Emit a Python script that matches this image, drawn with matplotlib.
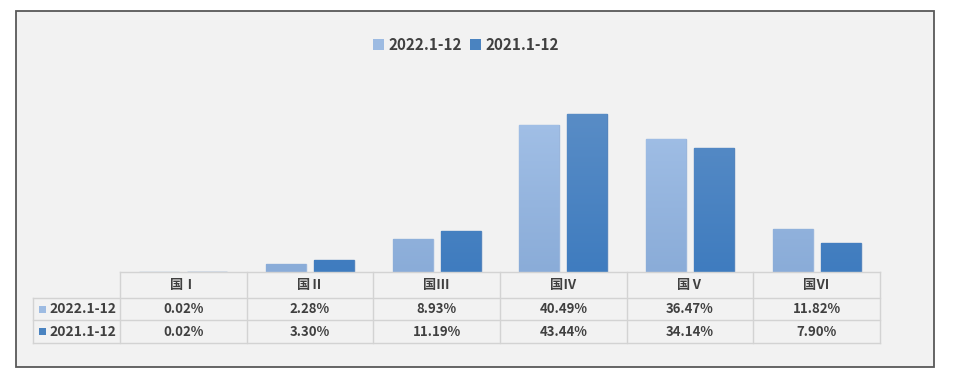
import matplotlib as mpl

mpl.use("Agg")

import matplotlib.pyplot as plt
import numpy as np
from matplotlib.colors import LinearSegmentedColormap
from matplotlib.patches import Patch, Rectangle

plt.rcParams["font.family"] = ["Noto Sans CJK SC", "DejaVu Sans"]

categories = ["国Ⅰ", "国Ⅱ", "国Ⅲ", "国Ⅳ", "国Ⅴ", "国Ⅵ"]
series_names = ["2022.1-12", "2021.1-12"]
share_2022 = [0.02, 2.28, 8.93, 40.49, 36.47, 11.82]
share_2021 = [0.02, 3.30, 11.19, 43.44, 34.14, 7.90]

LIGHT = {"top": "#a6c3e9", "bottom": "#8aacd8", "key": "#9dbbe2", "edge": "#9ab6dc"}
DARK = {"top": "#5d8fc7", "bottom": "#3f7cbf", "key": "#4a83c0", "edge": "#5585bd"}
TEXT = "#404040"
GRID = "#d3d3d3"

W, H = 956, 387
fig = plt.figure(figsize=(W / 100, H / 100), dpi=100)
fig.patch.set_facecolor("white")


def fx(px):
    return px / W


def fy(py):
    return 1 - py / H


# outer frame
fig.add_artist(Rectangle((fx(16), fy(367)), fx(934) - fx(16), fy(11) - fy(367),
                         transform=fig.transFigure, facecolor="#f2f2f2",
                         edgecolor="#595959", linewidth=1.3, zorder=0))

ax = fig.add_axes([fx(120), fy(272), fx(880) - fx(120), fy(90) - fy(272)])
ax.set_facecolor("none")

x = np.arange(len(categories))
bw = 0.315
off = 0.19


def gradient_bars(values, pos, colors):
    bars = ax.bar(pos, values, width=bw, color=colors["bottom"],
                  edgecolor=colors["edge"], linewidth=1.0, zorder=2)
    cmap = LinearSegmentedColormap.from_list("g", [colors["bottom"], colors["top"]])
    grad = np.linspace(0, 1, 256).reshape(-1, 1)
    for b in bars:
        x0, y0 = b.get_x(), b.get_y()
        im = ax.imshow(grad, cmap=cmap, origin="lower", aspect="auto",
                       extent=(x0, x0 + b.get_width(), y0, y0 + 50), zorder=3)
        im.set_clip_path(b)
    return bars


gradient_bars(share_2022, x - off, LIGHT)
gradient_bars(share_2021, x + off, DARK)

ax.set_xlim(-0.5, len(categories) - 0.5)
ax.set_ylim(0, 50)
ax.set_xticks([])
ax.set_yticks([])
for s in ax.spines.values():
    s.set_visible(False)

# data table under the bars
tr = ax.get_xaxis_transform()
unit = 760 / len(categories)
label_left = -0.5 - 87 / unit
right = len(categories) - 0.5
row_y = [0.0, -26 / 182, -48 / 182, -71 / 182]

line_kw = dict(transform=tr, color=GRID, linewidth=1.0, clip_on=False, zorder=4)
ax.plot([-0.5, right], [row_y[0], row_y[0]], **line_kw)
for yy in row_y[1:]:
    ax.plot([label_left, right], [yy, yy], **line_kw)
for i in range(len(categories) + 1):
    ax.plot([i - 0.5, i - 0.5], [row_y[0], row_y[3]], **line_kw)
ax.plot([label_left, label_left], [row_y[1], row_y[3]], **line_kw)

for i, cat in enumerate(categories):
    ax.text(i, (row_y[0] + row_y[1]) / 2, cat, transform=tr, ha="center", va="center",
            fontsize=9.5, color=TEXT, fontweight="bold")

for r, (vals, colors, name) in enumerate(zip([share_2022, share_2021], [LIGHT, DARK], series_names)):
    yc = (row_y[r + 1] + row_y[r + 2]) / 2
    for i, v in enumerate(vals):
        ax.text(i, yc, f"{v:.2f}%", transform=tr, ha="center", va="center",
                fontsize=9.5, color=TEXT, fontweight="bold")
    sq_w = 7 / unit
    sq_h = 7 / 182
    ax.add_patch(Rectangle((label_left + 6 / unit, yc - sq_h / 2), sq_w, sq_h,
                           transform=tr, facecolor=colors["key"], edgecolor="none",
                           clip_on=False, zorder=4))
    ax.text(label_left + 16 / unit, yc, name, transform=tr, ha="left", va="center",
            fontsize=10, color=TEXT, fontweight="bold")

handles = [Patch(facecolor=LIGHT["key"], label=series_names[0]),
           Patch(facecolor=DARK["key"], label=series_names[1])]
leg = fig.legend(handles=handles, loc="center", bbox_to_anchor=(fx(466), fy(45)), ncol=2,
                 frameon=False, handlelength=0.7, handleheight=0.7, handletextpad=0.3,
                 columnspacing=0.5, prop={"size": 11, "weight": "bold"})
for t in leg.get_texts():
    t.set_color(TEXT)

fig.savefig("out.png", dpi=100)
